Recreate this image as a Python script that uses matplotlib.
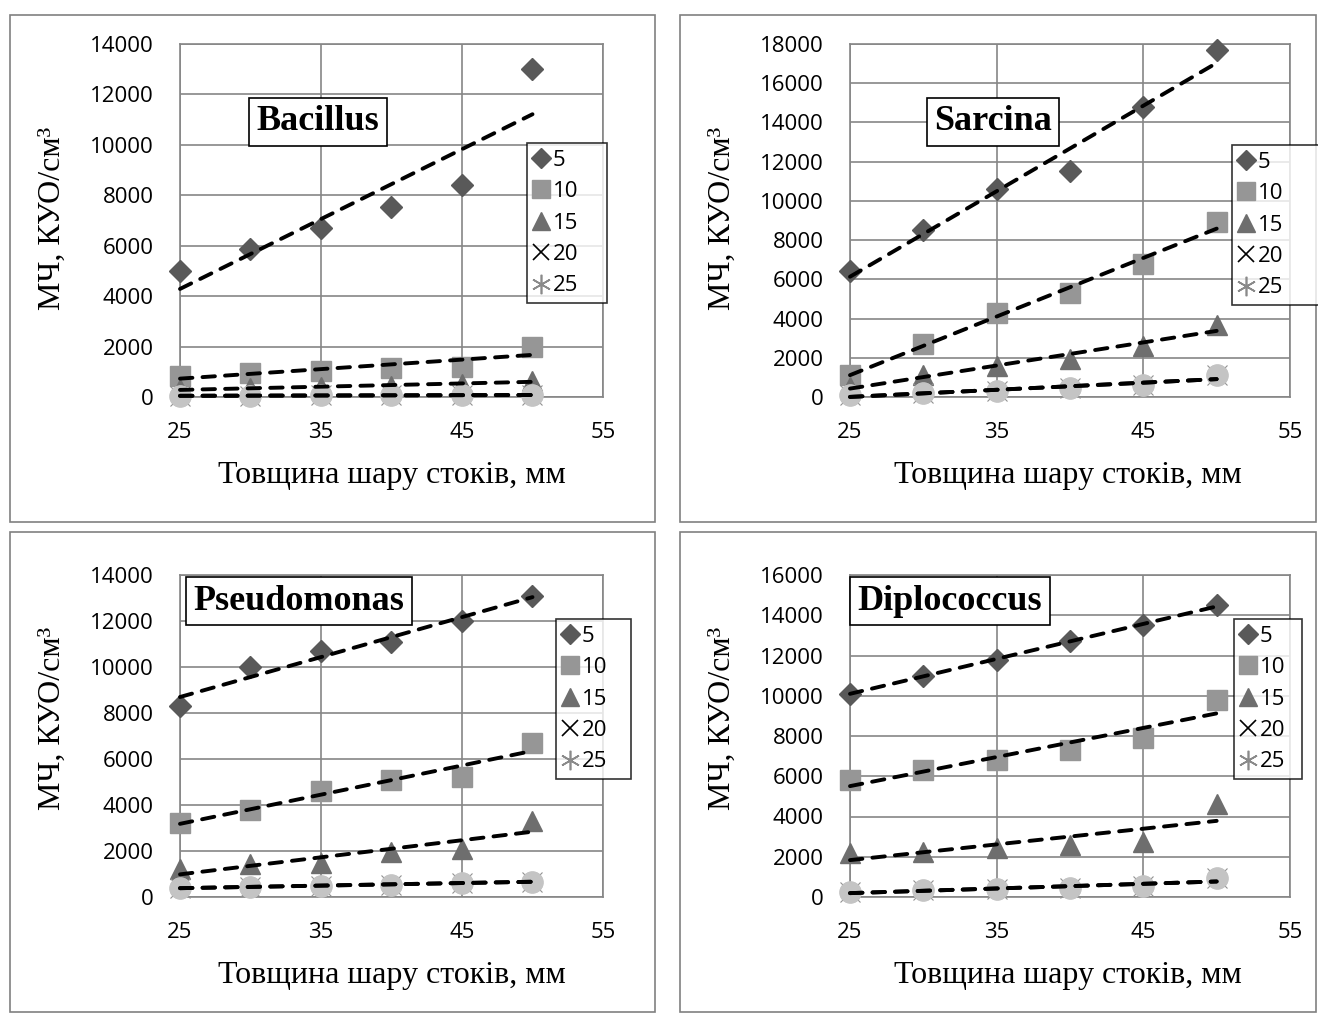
import numpy as np
import matplotlib
matplotlib.use('Agg')
import matplotlib.pyplot as plt
from matplotlib.lines import Line2D
from matplotlib.patches import Rectangle

W, H = 1318, 1016

x = [25, 30, 35, 40, 45, 50]
series_names = ['5', '10', '15', '20', '25']

# Bacillus
bac_5 = [5000, 5850, 6700, 7550, 8400, 13000]
bac_10 = [850, 950, 1050, 1150, 1200, 2000]
bac_15 = [300, 350, 400, 450, 500, 650]
bac_20 = [50, 50, 60, 70, 70, 80]
bac_25 = [50, 50, 60, 70, 70, 80]

# Sarcina
sar_5 = [6400, 8500, 10600, 11500, 14800, 17700]
sar_10 = [1100, 2700, 4300, 5300, 6800, 8900]
sar_15 = [500, 1100, 1600, 1950, 2600, 3650]
sar_20 = [100, 200, 300, 450, 600, 1100]
sar_25 = [100, 200, 300, 450, 600, 1100]

# Pseudomonas
pse_5 = [8300, 10000, 10700, 11100, 12000, 13100]
pse_10 = [3200, 3800, 4600, 5100, 5200, 6700]
pse_15 = [1200, 1420, 1500, 1950, 2100, 3300]
pse_20 = [400, 430, 490, 530, 620, 670]
pse_25 = [400, 430, 490, 530, 620, 670]

# Diplococcus
dip_5 = [10100, 11000, 11800, 12700, 13500, 14500]
dip_10 = [5800, 6300, 6800, 7300, 7900, 9800]
dip_15 = [2200, 2250, 2450, 2600, 2750, 4600]
dip_20 = [270, 330, 380, 430, 530, 950]
dip_25 = [270, 330, 380, 430, 530, 950]

titles = ['Bacillus', 'Sarcina', 'Pseudomonas', 'Diplococcus']
ymax = [14000, 18000, 14000, 16000]

panels = [
    [bac_5, bac_10, bac_15, bac_20, bac_25],
    [sar_5, sar_10, sar_15, sar_20, sar_25],
    [pse_5, pse_10, pse_15, pse_20, pse_25],
    [dip_5, dip_10, dip_15, dip_20, dip_25],
]

# layout in pixels
axes_px = [(180, 44, 603, 397), (850, 44, 1290, 397),
           (180, 575, 603, 897), (850, 575, 1290, 897)]
outer_px = [(10, 15, 655, 522), (680, 15, 1316, 522),
            (10, 532, 655, 1012), (680, 532, 1316, 1012)]
title_px = [(318, 122), (993, 122), (299, 601), (950, 601)]
legend_px = [(527, 143, 80), (1232, 145, 90), (556, 619, 75), (1234, 619, 68)]
ylabel_px = [(52, 218), (722, 218), (52, 718), (722, 718)]
xlabel_px = [(392, 475), (1068, 475), (392, 975), (1068, 975)]

serif = ['Liberation Serif', 'DejaVu Serif']
sans = ['Open Sans', 'DejaVu Sans']

markers = ['D', 's', '^', 'o', 'o']
msizes = [11, 14, 15, 15, 15]
colors = ['#595959', '#969696', '#6e6e6e', '#c4c4c4', '#c4c4c4']

fig = plt.figure(figsize=(W / 100, H / 100), dpi=100)

def fx(px):
    return px / W

def fy(py):
    return 1 - py / H

for i in range(4):
    ox0, oy0, ox1, oy1 = outer_px[i]
    fig.patches.append(Rectangle((fx(ox0), fy(oy1)), fx(ox1 - ox0), (oy1 - oy0) / H,
                                 transform=fig.transFigure, fill=False,
                                 edgecolor='#808080', lw=1.2))

    l, t, r, b = axes_px[i]
    ax = fig.add_axes([fx(l), fy(b), fx(r - l), (b - t) / H])
    for k, ys in enumerate(panels[i]):
        ax.plot(x, ys, linestyle='none', marker=markers[k], ms=msizes[k],
                color=colors[k], mec=colors[k], zorder=3, clip_on=False)
        if k == 3:
            ax.plot(x, ys, linestyle='none', marker='x', ms=15, mew=0.8,
                    color='#909090', zorder=3, clip_on=False)
        p = np.polyfit(x, ys, 1)
        ax.plot([x[0], x[-1]], np.polyval(p, [x[0], x[-1]]), color='black',
                lw=2.8, linestyle=(0, (3.2, 2.6)), dash_capstyle='round',
                zorder=4, clip_on=False)

    ax.set_xlim(25, 55)
    ax.set_ylim(0, ymax[i])
    ax.set_xticks([25, 35, 45, 55])
    ax.set_yticks(np.arange(0, ymax[i] + 1, 2000))
    ax.grid(True, color='#868686', lw=1.2)
    ax.set_axisbelow(True)
    for s in ax.spines.values():
        s.set_color('#868686')
        s.set_linewidth(1.2)
    ax.tick_params(length=0, labelsize=16)
    ax.tick_params(axis='x', pad=18)
    ax.tick_params(axis='y', pad=19)
    for lab in ax.get_xticklabels() + ax.get_yticklabels():
        lab.set_family(sans)

    tx, ty = title_px[i]
    fig.text(fx(tx), fy(ty), titles[i], family=serif, fontsize=26, fontweight='bold',
             ha='center', va='center',
             bbox=dict(boxstyle='square,pad=0.2', fc='white', ec='black', lw=1.2))

    yx, yy = ylabel_px[i]
    fig.text(fx(yx), fy(yy), 'МЧ, КУО/см³', family=serif, fontsize=23,
             rotation=90, ha='center', va='center')
    xx, xy = xlabel_px[i]
    fig.text(fx(xx), fy(xy), 'Товщина шару стоків, мм', family=serif, fontsize=23,
             ha='center', va='center')

    handles = [
        Line2D([], [], ls='none', marker='D', ms=10, color=colors[0]),
        Line2D([], [], ls='none', marker='s', ms=13, color=colors[1]),
        Line2D([], [], ls='none', marker='^', ms=13, color=colors[2]),
        Line2D([], [], ls='none', marker='x', ms=12, mew=1.2, color='black'),
        Line2D([], [], ls='none', marker=(6, 2, 0), ms=14, mew=1.2, color='#8a8a8a'),
    ]
    lx, ly, lw_ = legend_px[i]
    leg = fig.legend(handles, series_names, loc='upper left', mode='expand',
                     bbox_to_anchor=(fx(lx), fy(ly), fx(lw_), 0.0),
                     frameon=True, fancybox=False,
                     handlelength=0.7, handletextpad=0.15, borderpad=0.3,
                     borderaxespad=0, labelspacing=0.47,
                     prop={'family': sans, 'size': 16})
    leg.get_frame().set_edgecolor('black')
    leg.get_frame().set_linewidth(1.2)

fig.savefig('out.png', dpi=100)
